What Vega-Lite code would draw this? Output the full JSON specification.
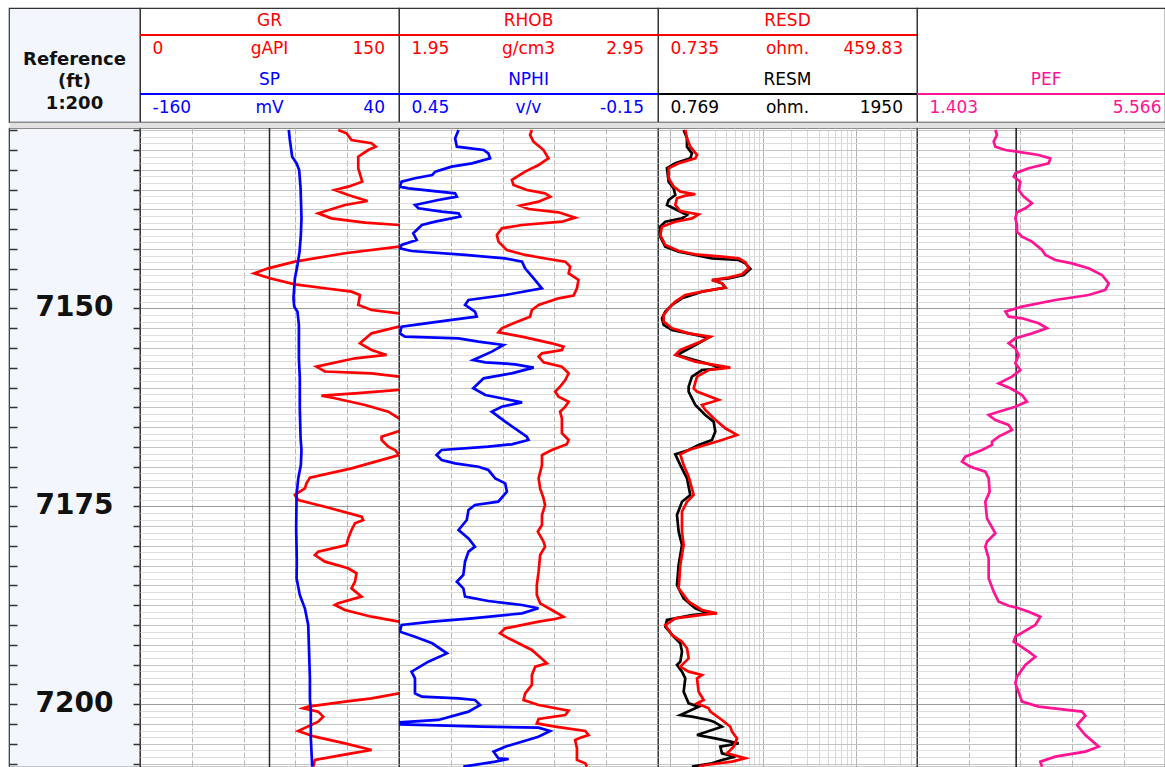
{
"$schema":"https://vega.github.io/schema/vega-lite/v6.json",
"background":"white",
"padding":{"left":7,"top":7,"right":0,"bottom":0},
"config":{"view":{"stroke":"#333333","strokeWidth":1.2},"text":{"font":"DejaVu Sans"}},
"datasets":{
"hdr0":[{"label":"Reference","line":1},{"label":"(ft)","line":2},{"label":"1:200","line":3}],
"hdr1":[{"curve":"GR","unit":"gAPI","lo":"0","hi":"150","slot":1},{"curve":"SP","unit":"mV","lo":"-160","hi":"40","slot":2}],
"hdr2":[{"curve":"RHOB","unit":"g/cm3","lo":"1.95","hi":"2.95","slot":1},{"curve":"NPHI","unit":"v/v","lo":"0.45","hi":"-0.15","slot":2}],
"hdr3":[{"curve":"RESD","unit":"ohm.","lo":"0.735","hi":"459.83","slot":1},{"curve":"RESM","unit":"ohm.","lo":"0.769","hi":"1950","slot":2}],
"hdr4":[{"curve":"PEF","unit":"","lo":"1.403","hi":"5.566","slot":2}],
"depthLabels":[{"depth":7150},{"depth":7175},{"depth":7200}],
"cut1":[{"GR":75}],
"cut4":[{"PEF":3}],
"gr":[{"depth":7127.48,"GR":114.8},{"depth":7127.9,"GR":119.6},{"depth":7128.74,"GR":122.5},{"depth":7129.16,"GR":134.1},{"depth":7129.59,"GR":136.5},{"depth":7130.01,"GR":132.2},{"depth":7130.85,"GR":126.4},{"depth":7132.32,"GR":126.4},{"depth":7134.01,"GR":128.7},{"depth":7134.64,"GR":120.6},{"depth":7135.06,"GR":112.9},{"depth":7135.69,"GR":120.6},{"depth":7136.45,"GR":131.8},{"depth":7136.95,"GR":118.7},{"depth":7138.0,"GR":103.2},{"depth":7138.64,"GR":110.9},{"depth":7139.18,"GR":130.3},{"depth":7139.48,"GR":150},{"depth":7139.6,"GR":175},{"depth":7142.1,"GR":175},{"depth":7142.21,"GR":150},{"depth":7143.05,"GR":118.7},{"depth":7144.11,"GR":89.7},{"depth":7144.95,"GR":74.2},{"depth":7145.58,"GR":66.1},{"depth":7146.21,"GR":75.2},{"depth":7146.97,"GR":89.7},{"depth":7147.47,"GR":107.1},{"depth":7147.9,"GR":122.5},{"depth":7148.32,"GR":127.4},{"depth":7149.58,"GR":126.4},{"depth":7150.21,"GR":134.1},{"depth":7150.63,"GR":150},{"depth":7150.75,"GR":175},{"depth":7152.2,"GR":175},{"depth":7152.31,"GR":150},{"depth":7153.16,"GR":134.1},{"depth":7154.42,"GR":127.4},{"depth":7155.26,"GR":134.1},{"depth":7155.89,"GR":142.8},{"depth":7156.31,"GR":124.5},{"depth":7157.37,"GR":102.2},{"depth":7157.98,"GR":107.1},{"depth":7158.21,"GR":134.1},{"depth":7158.63,"GR":150},{"depth":7158.75,"GR":175},{"depth":7160.2,"GR":175},{"depth":7160.31,"GR":150},{"depth":7160.73,"GR":124.5},{"depth":7161.03,"GR":105.1},{"depth":7161.36,"GR":112.9},{"depth":7162.21,"GR":130.3},{"depth":7163.05,"GR":143.8},{"depth":7163.89,"GR":150},{"depth":7164.0,"GR":175},{"depth":7165.4,"GR":175},{"depth":7165.49,"GR":150},{"depth":7166.2,"GR":139.9},{"depth":7166.62,"GR":139.9},{"depth":7167.47,"GR":143.8},{"depth":7167.89,"GR":147.7},{"depth":7168.52,"GR":150},{"depth":7170.21,"GR":122.5},{"depth":7171.38,"GR":98.4},{"depth":7172.1,"GR":96.4},{"depth":7172.73,"GR":95.5},{"depth":7173.57,"GR":89.7},{"depth":7174.2,"GR":91.6},{"depth":7175.05,"GR":107.1},{"depth":7176.31,"GR":128.3},{"depth":7176.73,"GR":129.3},{"depth":7177.15,"GR":124.5},{"depth":7177.99,"GR":122.5},{"depth":7179.05,"GR":120.6},{"depth":7179.89,"GR":119.6},{"depth":7180.73,"GR":103.2},{"depth":7181.15,"GR":101.3},{"depth":7181.99,"GR":107.1},{"depth":7182.83,"GR":120.6},{"depth":7183.46,"GR":125.4},{"depth":7184.52,"GR":124.5},{"depth":7185.36,"GR":122.5},{"depth":7186.41,"GR":128.3},{"depth":7187.25,"GR":114.8},{"depth":7187.46,"GR":112.9},{"depth":7188.09,"GR":118.7},{"depth":7188.94,"GR":134.1},{"depth":7189.57,"GR":150},{"depth":7189.7,"GR":175},{"depth":7198.5,"GR":175},{"depth":7198.62,"GR":150},{"depth":7199.25,"GR":134.1},{"depth":7199.67,"GR":118.7},{"depth":7200.3,"GR":97.4},{"depth":7200.51,"GR":94.5},{"depth":7200.93,"GR":103.2},{"depth":7201.56,"GR":106.1},{"depth":7202.19,"GR":103.2},{"depth":7203.37,"GR":91.6},{"depth":7204.09,"GR":101.3},{"depth":7204.93,"GR":118.7},{"depth":7205.77,"GR":134.1},{"depth":7206.19,"GR":122.5},{"depth":7207.03,"GR":101.3},{"depth":7207.88,"GR":100.3}],
"sp":[{"depth":7127.48,"SP":-45.1},{"depth":7128.74,"SP":-44.3},{"depth":7130.85,"SP":-42.5},{"depth":7131.69,"SP":-39.1},{"depth":7132.53,"SP":-37.1},{"depth":7134.85,"SP":-36.0},{"depth":7138.64,"SP":-35.3},{"depth":7140.74,"SP":-35.8},{"depth":7142.84,"SP":-36.8},{"depth":7144.53,"SP":-38.4},{"depth":7146.21,"SP":-40.4},{"depth":7148.74,"SP":-41.5},{"depth":7149.79,"SP":-40.9},{"depth":7150.42,"SP":-38.4},{"depth":7152.1,"SP":-37.3},{"depth":7156.31,"SP":-37.3},{"depth":7158.84,"SP":-36.6},{"depth":7162.63,"SP":-36.6},{"depth":7166.41,"SP":-36.0},{"depth":7167.89,"SP":-35.3},{"depth":7169.79,"SP":-35.8},{"depth":7171.47,"SP":-37.8},{"depth":7173.57,"SP":-39.1},{"depth":7177.78,"SP":-39.4},{"depth":7181.99,"SP":-38.9},{"depth":7184.1,"SP":-39.1},{"depth":7186.2,"SP":-36.6},{"depth":7187.88,"SP":-32.7},{"depth":7189.99,"SP":-30.1},{"depth":7192.51,"SP":-29.6},{"depth":7196.72,"SP":-28.8},{"depth":7199.25,"SP":-28.8},{"depth":7200.93,"SP":-28.1},{"depth":7204.3,"SP":-28.1},{"depth":7207.88,"SP":-27.0}],
"rhob":[{"depth":7127.48,"RHOB":2.463},{"depth":7128.11,"RHOB":2.456},{"depth":7128.95,"RHOB":2.469},{"depth":7130.01,"RHOB":2.508},{"depth":7131.06,"RHOB":2.527},{"depth":7131.9,"RHOB":2.489},{"depth":7132.74,"RHOB":2.437},{"depth":7133.79,"RHOB":2.386},{"depth":7134.43,"RHOB":2.392},{"depth":7135.06,"RHOB":2.444},{"depth":7135.48,"RHOB":2.514},{"depth":7135.9,"RHOB":2.534},{"depth":7136.53,"RHOB":2.489},{"depth":7137.04,"RHOB":2.418},{"depth":7137.46,"RHOB":2.45},{"depth":7137.88,"RHOB":2.566},{"depth":7138.55,"RHOB":2.63},{"depth":7139.06,"RHOB":2.579},{"depth":7139.48,"RHOB":2.424},{"depth":7139.9,"RHOB":2.347},{"depth":7140.74,"RHOB":2.328},{"depth":7141.58,"RHOB":2.334},{"depth":7142.63,"RHOB":2.366},{"depth":7143.26,"RHOB":2.437},{"depth":7143.77,"RHOB":2.527},{"depth":7144.11,"RHOB":2.592},{"depth":7144.74,"RHOB":2.611},{"depth":7145.58,"RHOB":2.605},{"depth":7146.0,"RHOB":2.624},{"depth":7146.42,"RHOB":2.643},{"depth":7147.47,"RHOB":2.637},{"depth":7148.4,"RHOB":2.624},{"depth":7148.74,"RHOB":2.566},{"depth":7149.58,"RHOB":2.489},{"depth":7150.21,"RHOB":2.463},{"depth":7151.05,"RHOB":2.456},{"depth":7151.89,"RHOB":2.392},{"depth":7152.52,"RHOB":2.347},{"depth":7153.03,"RHOB":2.334},{"depth":7153.58,"RHOB":2.424},{"depth":7154.42,"RHOB":2.54},{"depth":7154.84,"RHOB":2.585},{"depth":7155.26,"RHOB":2.579},{"depth":7155.68,"RHOB":2.502},{"depth":7156.1,"RHOB":2.489},{"depth":7156.82,"RHOB":2.508},{"depth":7157.37,"RHOB":2.579},{"depth":7158.21,"RHOB":2.605},{"depth":7159.05,"RHOB":2.592},{"depth":7159.89,"RHOB":2.572},{"depth":7160.52,"RHOB":2.553},{"depth":7161.15,"RHOB":2.566},{"depth":7161.79,"RHOB":2.605},{"depth":7162.42,"RHOB":2.592},{"depth":7163.05,"RHOB":2.572},{"depth":7163.89,"RHOB":2.579},{"depth":7164.94,"RHOB":2.579},{"depth":7165.78,"RHOB":2.579},{"depth":7166.62,"RHOB":2.605},{"depth":7167.17,"RHOB":2.598},{"depth":7167.89,"RHOB":2.54},{"depth":7168.52,"RHOB":2.502},{"depth":7169.79,"RHOB":2.502},{"depth":7171.47,"RHOB":2.489},{"depth":7172.73,"RHOB":2.495},{"depth":7174.0,"RHOB":2.508},{"depth":7174.84,"RHOB":2.514},{"depth":7176.1,"RHOB":2.502},{"depth":7177.36,"RHOB":2.502},{"depth":7178.2,"RHOB":2.486},{"depth":7179.47,"RHOB":2.508},{"depth":7180.1,"RHOB":2.514},{"depth":7181.15,"RHOB":2.495},{"depth":7183.25,"RHOB":2.489},{"depth":7184.94,"RHOB":2.482},{"depth":7186.2,"RHOB":2.482},{"depth":7187.25,"RHOB":2.495},{"depth":7188.09,"RHOB":2.54},{"depth":7188.94,"RHOB":2.585},{"depth":7189.23,"RHOB":2.553},{"depth":7189.57,"RHOB":2.489},{"depth":7190.41,"RHOB":2.36},{"depth":7191.04,"RHOB":2.34},{"depth":7191.67,"RHOB":2.373},{"depth":7193.14,"RHOB":2.463},{"depth":7194.83,"RHOB":2.521},{"depth":7195.25,"RHOB":2.476},{"depth":7196.3,"RHOB":2.463},{"depth":7197.56,"RHOB":2.463},{"depth":7198.62,"RHOB":2.437},{"depth":7199.46,"RHOB":2.431},{"depth":7200.09,"RHOB":2.489},{"depth":7200.81,"RHOB":2.605},{"depth":7201.35,"RHOB":2.592},{"depth":7201.86,"RHOB":2.489},{"depth":7202.41,"RHOB":2.482},{"depth":7202.83,"RHOB":2.553},{"depth":7203.37,"RHOB":2.669},{"depth":7203.88,"RHOB":2.682},{"depth":7204.22,"RHOB":2.65},{"depth":7204.51,"RHOB":2.63},{"depth":7205.56,"RHOB":2.637},{"depth":7207.03,"RHOB":2.637},{"depth":7207.46,"RHOB":2.669},{"depth":7207.88,"RHOB":2.676}],
"nphi":[{"depth":7127.48,"NPHI":0.312},{"depth":7128.53,"NPHI":0.32},{"depth":7129.59,"NPHI":0.316},{"depth":7130.01,"NPHI":0.254},{"depth":7130.43,"NPHI":0.243},{"depth":7131.06,"NPHI":0.239},{"depth":7131.69,"NPHI":0.281},{"depth":7132.11,"NPHI":0.328},{"depth":7132.74,"NPHI":0.366},{"depth":7133.16,"NPHI":0.373},{"depth":7133.58,"NPHI":0.413},{"depth":7134.01,"NPHI":0.444},{"depth":7134.64,"NPHI":0.448},{"depth":7134.85,"NPHI":0.428},{"depth":7135.48,"NPHI":0.32},{"depth":7135.9,"NPHI":0.316},{"depth":7136.32,"NPHI":0.359},{"depth":7136.95,"NPHI":0.413},{"depth":7137.37,"NPHI":0.405},{"depth":7137.79,"NPHI":0.351},{"depth":7138.0,"NPHI":0.312},{"depth":7138.42,"NPHI":0.308},{"depth":7139.06,"NPHI":0.366},{"depth":7139.48,"NPHI":0.397},{"depth":7140.53,"NPHI":0.417},{"depth":7141.37,"NPHI":0.409},{"depth":7142.0,"NPHI":0.444},{"depth":7142.42,"NPHI":0.448},{"depth":7142.76,"NPHI":0.421},{"depth":7143.26,"NPHI":0.297},{"depth":7143.69,"NPHI":0.204},{"depth":7144.11,"NPHI":0.165},{"depth":7144.95,"NPHI":0.158},{"depth":7146.21,"NPHI":0.138},{"depth":7147.47,"NPHI":0.119},{"depth":7148.32,"NPHI":0.204},{"depth":7148.95,"NPHI":0.289},{"depth":7149.58,"NPHI":0.297},{"depth":7150.42,"NPHI":0.274},{"depth":7151.05,"NPHI":0.27},{"depth":7151.47,"NPHI":0.328},{"depth":7152.02,"NPHI":0.405},{"depth":7152.31,"NPHI":0.444},{"depth":7153.16,"NPHI":0.448},{"depth":7153.58,"NPHI":0.436},{"depth":7153.79,"NPHI":0.312},{"depth":7154.21,"NPHI":0.266},{"depth":7154.63,"NPHI":0.208},{"depth":7155.47,"NPHI":0.235},{"depth":7156.52,"NPHI":0.278},{"depth":7156.82,"NPHI":0.25},{"depth":7157.07,"NPHI":0.181},{"depth":7157.49,"NPHI":0.138},{"depth":7158.21,"NPHI":0.189},{"depth":7158.84,"NPHI":0.254},{"depth":7160.1,"NPHI":0.278},{"depth":7160.94,"NPHI":0.25},{"depth":7161.45,"NPHI":0.204},{"depth":7161.87,"NPHI":0.165},{"depth":7162.42,"NPHI":0.212},{"depth":7163.05,"NPHI":0.235},{"depth":7164.31,"NPHI":0.204},{"depth":7166.2,"NPHI":0.154},{"depth":7166.62,"NPHI":0.15},{"depth":7167.17,"NPHI":0.189},{"depth":7167.47,"NPHI":0.243},{"depth":7167.89,"NPHI":0.351},{"depth":7168.52,"NPHI":0.363},{"depth":7169.15,"NPHI":0.351},{"depth":7169.57,"NPHI":0.32},{"depth":7170.0,"NPHI":0.266},{"depth":7170.42,"NPHI":0.243},{"depth":7171.47,"NPHI":0.227},{"depth":7172.1,"NPHI":0.204},{"depth":7173.15,"NPHI":0.2},{"depth":7174.42,"NPHI":0.22},{"depth":7174.84,"NPHI":0.274},{"depth":7175.47,"NPHI":0.289},{"depth":7176.73,"NPHI":0.293},{"depth":7177.99,"NPHI":0.312},{"depth":7179.05,"NPHI":0.289},{"depth":7180.1,"NPHI":0.274},{"depth":7180.73,"NPHI":0.289},{"depth":7181.99,"NPHI":0.297},{"depth":7183.67,"NPHI":0.301},{"depth":7184.52,"NPHI":0.316},{"depth":7185.36,"NPHI":0.301},{"depth":7186.41,"NPHI":0.297},{"depth":7186.96,"NPHI":0.243},{"depth":7187.46,"NPHI":0.165},{"depth":7187.88,"NPHI":0.127},{"depth":7188.52,"NPHI":0.165},{"depth":7189.15,"NPHI":0.281},{"depth":7189.57,"NPHI":0.373},{"depth":7189.99,"NPHI":0.444},{"depth":7190.83,"NPHI":0.448},{"depth":7191.46,"NPHI":0.413},{"depth":7192.3,"NPHI":0.373},{"depth":7193.57,"NPHI":0.339},{"depth":7194.62,"NPHI":0.382},{"depth":7195.88,"NPHI":0.421},{"depth":7196.72,"NPHI":0.413},{"depth":7198.62,"NPHI":0.413},{"depth":7199.04,"NPHI":0.397},{"depth":7199.25,"NPHI":0.312},{"depth":7199.46,"NPHI":0.274},{"depth":7200.09,"NPHI":0.262},{"depth":7200.93,"NPHI":0.289},{"depth":7201.98,"NPHI":0.359},{"depth":7202.28,"NPHI":0.448},{"depth":7202.53,"NPHI":0.448},{"depth":7202.62,"NPHI":0.382},{"depth":7202.83,"NPHI":0.258},{"depth":7202.95,"NPHI":0.127},{"depth":7203.37,"NPHI":0.1},{"depth":7204.09,"NPHI":0.127},{"depth":7205.35,"NPHI":0.204},{"depth":7205.98,"NPHI":0.231},{"depth":7206.82,"NPHI":0.22},{"depth":7206.91,"NPHI":0.196},{"depth":7207.24,"NPHI":0.227},{"depth":7207.88,"NPHI":0.301}],
"resd":[{"depth":7127.48,"RESD":1.45},{"depth":7128.53,"RESD":1.511},{"depth":7129.59,"RESD":1.641},{"depth":7130.64,"RESD":1.938},{"depth":7131.06,"RESD":1.858},{"depth":7131.69,"RESD":1.228},{"depth":7132.32,"RESD":0.957},{"depth":7133.58,"RESD":0.957},{"depth":7134.64,"RESD":1.084},{"depth":7135.27,"RESD":1.28},{"depth":7135.6,"RESD":1.858},{"depth":7135.77,"RESD":1.45},{"depth":7136.11,"RESD":1.178},{"depth":7136.95,"RESD":1.13},{"depth":7137.71,"RESD":1.28},{"depth":7138.13,"RESD":2.02},{"depth":7138.64,"RESD":1.711},{"depth":7139.06,"RESD":1.13},{"depth":7139.69,"RESD":0.811},{"depth":7140.74,"RESD":0.778},{"depth":7142.0,"RESD":0.881},{"depth":7142.76,"RESD":1.228},{"depth":7143.18,"RESD":1.858},{"depth":7143.48,"RESD":3.607},{"depth":7143.69,"RESD":5.46},{"depth":7144.19,"RESD":6.444},{"depth":7144.95,"RESD":7.0},{"depth":7145.71,"RESD":5.931},{"depth":7146.13,"RESD":4.257},{"depth":7146.42,"RESD":2.813},{"depth":7146.84,"RESD":3.607},{"depth":7147.39,"RESD":3.919},{"depth":7147.9,"RESD":2.194},{"depth":7148.32,"RESD":1.45},{"depth":7149.16,"RESD":1.13},{"depth":7150.0,"RESD":0.957},{"depth":7150.84,"RESD":0.846},{"depth":7151.68,"RESD":0.846},{"depth":7152.52,"RESD":1.04},{"depth":7153.16,"RESD":1.575},{"depth":7153.58,"RESD":2.7},{"depth":7154.21,"RESD":2.105},{"depth":7155.26,"RESD":1.28},{"depth":7155.89,"RESD":1.13},{"depth":7156.73,"RESD":1.858},{"depth":7157.49,"RESD":4.437},{"depth":7157.79,"RESD":2.59},{"depth":7158.63,"RESD":1.938},{"depth":7160.1,"RESD":1.783},{"depth":7160.52,"RESD":1.938},{"depth":7161.57,"RESD":3.32},{"depth":7162.21,"RESD":2.194},{"depth":7162.84,"RESD":2.384},{"depth":7163.89,"RESD":2.932},{"depth":7165.15,"RESD":3.919},{"depth":7165.99,"RESD":5.238},{"depth":7166.63,"RESD":3.607},{"depth":7167.26,"RESD":2.384},{"depth":7167.89,"RESD":1.575},{"depth":7168.44,"RESD":1.28},{"depth":7169.79,"RESD":1.39},{"depth":7171.26,"RESD":1.575},{"depth":7173.57,"RESD":1.783},{"depth":7174.42,"RESD":1.511},{"depth":7175.68,"RESD":1.334},{"depth":7178.2,"RESD":1.334},{"depth":7179.89,"RESD":1.39},{"depth":7182.41,"RESD":1.28},{"depth":7185.36,"RESD":1.228},{"depth":7187.04,"RESD":1.575},{"depth":7188.09,"RESD":2.194},{"depth":7188.52,"RESD":3.185},{"depth":7188.65,"RESD":2.384},{"depth":7189.15,"RESD":1.13},{"depth":7189.99,"RESD":0.881},{"depth":7191.25,"RESD":1.04},{"depth":7192.09,"RESD":1.334},{"depth":7192.93,"RESD":1.511},{"depth":7194.2,"RESD":1.575},{"depth":7195.25,"RESD":1.28},{"depth":7195.88,"RESD":1.575},{"depth":7196.3,"RESD":2.194},{"depth":7196.72,"RESD":1.938},{"depth":7198.41,"RESD":2.02},{"depth":7199.46,"RESD":2.287},{"depth":7199.88,"RESD":1.938},{"depth":7200.51,"RESD":2.59},{"depth":7200.93,"RESD":2.7},{"depth":7201.98,"RESD":3.607},{"depth":7202.83,"RESD":4.437},{"depth":7203.46,"RESD":4.625},{"depth":7204.3,"RESD":5.238},{"depth":7205.35,"RESD":4.821},{"depth":7206.19,"RESD":4.084},{"depth":7206.82,"RESD":6.444},{"depth":7207.24,"RESD":4.625},{"depth":7207.67,"RESD":2.384},{"depth":7207.88,"RESD":2.02}],
"resm":[{"depth":7127.48,"RESM":1.671},{"depth":7128.53,"RESM":1.848},{"depth":7129.59,"RESM":1.848},{"depth":7130.43,"RESM":2.15},{"depth":7131.06,"RESM":2.044},{"depth":7131.69,"RESM":1.298},{"depth":7132.32,"RESM":1.009},{"depth":7134.01,"RESM":1.061},{"depth":7134.85,"RESM":1.234},{"depth":7135.69,"RESM":1.298},{"depth":7136.32,"RESM":1.061},{"depth":7136.95,"RESM":1.009},{"depth":7137.37,"RESM":1.234},{"depth":7138.21,"RESM":1.848},{"depth":7138.64,"RESM":1.589},{"depth":7139.06,"RESM":0.959},{"depth":7139.69,"RESM":0.824},{"depth":7140.95,"RESM":0.824},{"depth":7142.21,"RESM":0.959},{"depth":7142.84,"RESM":1.436},{"depth":7143.69,"RESM":3.938},{"depth":7143.9,"RESM":8.83},{"depth":7144.32,"RESM":10.8},{"depth":7145.03,"RESM":12.57},{"depth":7145.79,"RESM":10.27},{"depth":7146.21,"RESM":6.525},{"depth":7146.42,"RESM":3.938},{"depth":7146.84,"RESM":5.332},{"depth":7147.39,"RESM":5.898},{"depth":7147.9,"RESM":2.91},{"depth":7148.74,"RESM":1.589},{"depth":7149.58,"RESM":1.174},{"depth":7150.42,"RESM":0.959},{"depth":7151.26,"RESM":0.867},{"depth":7152.1,"RESM":0.912},{"depth":7152.74,"RESM":1.174},{"depth":7153.16,"RESM":1.944},{"depth":7153.7,"RESM":3.56},{"depth":7154.63,"RESM":2.378},{"depth":7155.89,"RESM":1.365},{"depth":7156.31,"RESM":1.944},{"depth":7157.15,"RESM":3.938},{"depth":7157.58,"RESM":5.332},{"depth":7157.79,"RESM":2.91},{"depth":7158.63,"RESM":2.15},{"depth":7159.89,"RESM":1.944},{"depth":7160.52,"RESM":1.944},{"depth":7162.21,"RESM":2.378},{"depth":7163.47,"RESM":3.218},{"depth":7164.31,"RESM":4.142},{"depth":7165.57,"RESM":4.356},{"depth":7166.63,"RESM":3.938},{"depth":7167.26,"RESM":2.631},{"depth":7167.89,"RESM":1.944},{"depth":7168.44,"RESM":1.298},{"depth":7169.79,"RESM":1.511},{"depth":7171.47,"RESM":1.848},{"depth":7173.57,"RESM":2.044},{"depth":7174.42,"RESM":1.589},{"depth":7176.1,"RESM":1.365},{"depth":7178.2,"RESM":1.436},{"depth":7179.89,"RESM":1.589},{"depth":7182.41,"RESM":1.436},{"depth":7184.94,"RESM":1.365},{"depth":7186.62,"RESM":1.671},{"depth":7187.88,"RESM":2.378},{"depth":7188.52,"RESM":3.56},{"depth":7188.73,"RESM":2.15},{"depth":7189.36,"RESM":1.009},{"depth":7190.2,"RESM":0.959},{"depth":7191.46,"RESM":1.234},{"depth":7192.3,"RESM":1.511},{"depth":7193.36,"RESM":1.589},{"depth":7194.62,"RESM":1.511},{"depth":7195.04,"RESM":1.365},{"depth":7195.88,"RESM":1.589},{"depth":7196.72,"RESM":1.757},{"depth":7198.41,"RESM":1.671},{"depth":7199.88,"RESM":1.944},{"depth":7200.3,"RESM":2.631},{"depth":7201.35,"RESM":1.511},{"depth":7201.56,"RESM":2.15},{"depth":7201.98,"RESM":3.56},{"depth":7202.19,"RESM":4.142},{"depth":7202.83,"RESM":5.332},{"depth":7203.88,"RESM":2.501},{"depth":7204.3,"RESM":4.356},{"depth":7204.93,"RESM":8.83},{"depth":7205.35,"RESM":5.07},{"depth":7206.19,"RESM":5.332},{"depth":7206.61,"RESM":7.983},{"depth":7207.03,"RESM":5.332},{"depth":7207.46,"RESM":3.938},{"depth":7207.88,"RESM":2.15}],
"pef":[{"depth":7127.48,"PEF":2.665},{"depth":7128.11,"PEF":2.691},{"depth":7128.95,"PEF":2.638},{"depth":7129.59,"PEF":2.665},{"depth":7130.01,"PEF":2.826},{"depth":7130.22,"PEF":3.013},{"depth":7130.64,"PEF":3.362},{"depth":7131.06,"PEF":3.55},{"depth":7131.69,"PEF":3.523},{"depth":7132.32,"PEF":3.201},{"depth":7132.95,"PEF":2.987},{"depth":7133.37,"PEF":2.96},{"depth":7134.01,"PEF":3.067},{"depth":7135.06,"PEF":3.04},{"depth":7135.9,"PEF":3.121},{"depth":7136.74,"PEF":3.255},{"depth":7137.37,"PEF":3.148},{"depth":7137.88,"PEF":3.013},{"depth":7138.64,"PEF":2.987},{"depth":7139.48,"PEF":3.013},{"depth":7140.32,"PEF":3.013},{"depth":7140.95,"PEF":3.094},{"depth":7141.58,"PEF":3.255},{"depth":7142.63,"PEF":3.416},{"depth":7143.26,"PEF":3.47},{"depth":7143.9,"PEF":3.631},{"depth":7144.32,"PEF":3.899},{"depth":7144.95,"PEF":4.167},{"depth":7145.79,"PEF":4.382},{"depth":7146.84,"PEF":4.49},{"depth":7147.68,"PEF":4.436},{"depth":7148.32,"PEF":4.167},{"depth":7148.95,"PEF":3.631},{"depth":7149.79,"PEF":3.094},{"depth":7150.42,"PEF":2.826},{"depth":7151.05,"PEF":2.879},{"depth":7151.26,"PEF":3.094},{"depth":7151.89,"PEF":3.362},{"depth":7152.52,"PEF":3.497},{"depth":7153.16,"PEF":3.255},{"depth":7153.79,"PEF":2.987},{"depth":7154.42,"PEF":2.879},{"depth":7155.05,"PEF":2.987},{"depth":7155.89,"PEF":3.04},{"depth":7156.94,"PEF":2.987},{"depth":7157.79,"PEF":3.067},{"depth":7158.63,"PEF":2.933},{"depth":7159.47,"PEF":2.718},{"depth":7160.1,"PEF":2.906},{"depth":7160.94,"PEF":3.094},{"depth":7161.78,"PEF":3.174},{"depth":7162.42,"PEF":2.987},{"depth":7163.05,"PEF":2.718},{"depth":7163.47,"PEF":2.557},{"depth":7164.1,"PEF":2.665},{"depth":7164.73,"PEF":2.879},{"depth":7165.36,"PEF":2.933},{"depth":7166.2,"PEF":2.718},{"depth":7166.84,"PEF":2.611},{"depth":7167.26,"PEF":2.611},{"depth":7167.89,"PEF":2.45},{"depth":7168.73,"PEF":2.181},{"depth":7169.36,"PEF":2.128},{"depth":7170.0,"PEF":2.262},{"depth":7170.63,"PEF":2.503},{"depth":7171.47,"PEF":2.557},{"depth":7173.15,"PEF":2.573},{"depth":7174.42,"PEF":2.503},{"depth":7176.52,"PEF":2.53},{"depth":7178.41,"PEF":2.665},{"depth":7179.47,"PEF":2.53},{"depth":7180.1,"PEF":2.503},{"depth":7181.57,"PEF":2.557},{"depth":7184.1,"PEF":2.557},{"depth":7185.78,"PEF":2.638},{"depth":7187.04,"PEF":2.718},{"depth":7187.55,"PEF":2.879},{"depth":7187.88,"PEF":3.04},{"depth":7188.31,"PEF":3.201},{"depth":7188.94,"PEF":3.389},{"depth":7189.99,"PEF":3.309},{"depth":7191.46,"PEF":2.987},{"depth":7192.09,"PEF":2.96},{"depth":7193.36,"PEF":3.201},{"depth":7193.99,"PEF":3.309},{"depth":7195.04,"PEF":3.148},{"depth":7196.51,"PEF":3.013},{"depth":7197.35,"PEF":2.987},{"depth":7199.67,"PEF":3.094},{"depth":7200.3,"PEF":3.362},{"depth":7200.93,"PEF":4.06},{"depth":7201.44,"PEF":4.114},{"depth":7202.62,"PEF":3.98},{"depth":7203.88,"PEF":4.114},{"depth":7205.35,"PEF":4.329},{"depth":7205.98,"PEF":4.114},{"depth":7206.61,"PEF":3.631},{"depth":7207.24,"PEF":3.389},{"depth":7207.88,"PEF":3.416}]
},
"columns":5,
"spacing":{"row":6,"column":0},
"bounds":"flush",
"align":"each",
"concat":[
 {"width":131,"height":114,"view":{"fill":"#f3f7fd"},"data":{"name":"hdr0"},
  "mark":{"type":"text","fontSize":18,"fontWeight":"bold","color":"#111111","baseline":"middle","align":"center"},
  "encoding":{"x":{"datum":0.5,"type":"quantitative","scale":{"domain":[0,1],"nice":false,"zero":false},"axis":null},
   "y":{"field":"line","type":"quantitative","scale":{"domain":[-1.3636,3.8182],"reverse":true,"nice":false,"zero":false},"axis":null},
   "text":{"field":"label"}}},
 {"width":259,"height":114,"data":{"name":"hdr1"},
  "encoding":{"y":{"field":"slot","type":"quantitative","scale":{"domain":[0.5424,2.4746],"reverse":true,"nice":false,"zero":false},"axis":null},
   "color":{"field":"curve","type":"nominal","scale":{"domain":["GR","SP","RHOB","NPHI","RESD","RESM","PEF"],"range":["#ff0000","#0000ff","#ff0000","#0000ff","#ff0000","#000000","#ff1493"]},"legend":null}},
  "layer":[
   {"mark":{"type":"rule","strokeWidth":2},"encoding":{"x":{"datum":0,"type":"quantitative","scale":{"domain":[0,1],"nice":false,"zero":false},"axis":null},"x2":{"datum":1}}},
   {"mark":{"type":"text","fontSize":17,"baseline":"middle","align":"center","dy":-14},"encoding":{"x":{"datum":0.5,"type":"quantitative","axis":null},"text":{"field":"curve"}}},
   {"mark":{"type":"text","fontSize":17,"baseline":"middle","align":"center","dy":14.5},"encoding":{"x":{"datum":0.5,"type":"quantitative","axis":null},"text":{"field":"unit"}}},
   {"mark":{"type":"text","fontSize":17,"baseline":"middle","align":"left","dx":12.5,"dy":14.5},"encoding":{"x":{"datum":0,"type":"quantitative","axis":null},"text":{"field":"lo"}}},
   {"mark":{"type":"text","fontSize":17,"baseline":"middle","align":"right","dx":-14,"dy":14.5},"encoding":{"x":{"datum":1,"type":"quantitative","axis":null},"text":{"field":"hi"}}}
  ]},
 {"width":259,"height":114,"data":{"name":"hdr2"},
  "encoding":{"y":{"field":"slot","type":"quantitative","scale":{"domain":[0.5424,2.4746],"reverse":true,"nice":false,"zero":false},"axis":null},
   "color":{"field":"curve","type":"nominal","scale":{"domain":["GR","SP","RHOB","NPHI","RESD","RESM","PEF"],"range":["#ff0000","#0000ff","#ff0000","#0000ff","#ff0000","#000000","#ff1493"]},"legend":null}},
  "layer":[
   {"mark":{"type":"rule","strokeWidth":2},"encoding":{"x":{"datum":0,"type":"quantitative","scale":{"domain":[0,1],"nice":false,"zero":false},"axis":null},"x2":{"datum":1}}},
   {"mark":{"type":"text","fontSize":17,"baseline":"middle","align":"center","dy":-14},"encoding":{"x":{"datum":0.5,"type":"quantitative","axis":null},"text":{"field":"curve"}}},
   {"mark":{"type":"text","fontSize":17,"baseline":"middle","align":"center","dy":14.5},"encoding":{"x":{"datum":0.5,"type":"quantitative","axis":null},"text":{"field":"unit"}}},
   {"mark":{"type":"text","fontSize":17,"baseline":"middle","align":"left","dx":12.5,"dy":14.5},"encoding":{"x":{"datum":0,"type":"quantitative","axis":null},"text":{"field":"lo"}}},
   {"mark":{"type":"text","fontSize":17,"baseline":"middle","align":"right","dx":-14,"dy":14.5},"encoding":{"x":{"datum":1,"type":"quantitative","axis":null},"text":{"field":"hi"}}}
  ]},
 {"width":259,"height":114,"data":{"name":"hdr3"},
  "encoding":{"y":{"field":"slot","type":"quantitative","scale":{"domain":[0.5424,2.4746],"reverse":true,"nice":false,"zero":false},"axis":null},
   "color":{"field":"curve","type":"nominal","scale":{"domain":["GR","SP","RHOB","NPHI","RESD","RESM","PEF"],"range":["#ff0000","#0000ff","#ff0000","#0000ff","#ff0000","#000000","#ff1493"]},"legend":null}},
  "layer":[
   {"mark":{"type":"rule","strokeWidth":2},"encoding":{"x":{"datum":0,"type":"quantitative","scale":{"domain":[0,1],"nice":false,"zero":false},"axis":null},"x2":{"datum":1}}},
   {"mark":{"type":"text","fontSize":17,"baseline":"middle","align":"center","dy":-14},"encoding":{"x":{"datum":0.5,"type":"quantitative","axis":null},"text":{"field":"curve"}}},
   {"mark":{"type":"text","fontSize":17,"baseline":"middle","align":"center","dy":14.5},"encoding":{"x":{"datum":0.5,"type":"quantitative","axis":null},"text":{"field":"unit"}}},
   {"mark":{"type":"text","fontSize":17,"baseline":"middle","align":"left","dx":12.5,"dy":14.5},"encoding":{"x":{"datum":0,"type":"quantitative","axis":null},"text":{"field":"lo"}}},
   {"mark":{"type":"text","fontSize":17,"baseline":"middle","align":"right","dx":-14,"dy":14.5},"encoding":{"x":{"datum":1,"type":"quantitative","axis":null},"text":{"field":"hi"}}}
  ]},
 {"width":248,"height":114,"data":{"name":"hdr4"},
  "encoding":{"y":{"field":"slot","type":"quantitative","scale":{"domain":[0.5424,2.4746],"reverse":true,"nice":false,"zero":false},"axis":null},
   "color":{"field":"curve","type":"nominal","scale":{"domain":["GR","SP","RHOB","NPHI","RESD","RESM","PEF"],"range":["#ff0000","#0000ff","#ff0000","#0000ff","#ff0000","#000000","#ff1493"]},"legend":null}},
  "layer":[
   {"mark":{"type":"rule","strokeWidth":2},"encoding":{"x":{"datum":0,"type":"quantitative","scale":{"domain":[0,0.9594],"nice":false,"zero":false},"axis":null},"x2":{"datum":0.9594}}},
   {"mark":{"type":"text","fontSize":17,"baseline":"middle","align":"center","dy":-14},"encoding":{"x":{"datum":0.5,"type":"quantitative","axis":null},"text":{"field":"curve"}}},
   {"mark":{"type":"text","fontSize":17,"baseline":"middle","align":"left","dx":12.5,"dy":14.5},"encoding":{"x":{"datum":0,"type":"quantitative","axis":null},"text":{"field":"lo"}}},
   {"mark":{"type":"text","fontSize":17,"baseline":"middle","align":"right","dx":-14,"dy":14.5},"encoding":{"x":{"datum":1,"type":"quantitative","axis":null},"text":{"field":"hi"}}}
  ]},
 {"width":131,"height":639,"view":{"fill":"#f3f7fd"},"data":{"name":"depthLabels"},
  "mark":{"type":"text","fontSize":28,"fontWeight":"bold","color":"#111111","baseline":"middle","align":"center"},
  "encoding":{"x":{"datum":0.5,"type":"quantitative","scale":{"domain":[0,1],"nice":false,"zero":false},"axis":{"orient":"top","offset":3,"domain":true,"domainColor":"#e1e1e1","domainWidth":6,"labels":false,"ticks":false,"grid":false,"title":null}},
   "y":{"field":"depth","type":"quantitative","scale":{"domain":[7127.23,7207.92],"reverse":true,"nice":false,"zero":false},"axis":{"orient":"left","values":[7127.5,7130,7132.5,7135,7137.5,7140,7142.5,7145,7147.5,7150,7152.5,7155,7157.5,7160,7162.5,7165,7167.5,7170,7172.5,7175,7177.5,7180,7182.5,7185,7187.5,7190,7192.5,7195,7197.5,7200,7202.5,7205,7207.5],"ticks":true,"tickSize":-8,"tickColor":"#333333","tickWidth":1.5,"labels":false,"domain":false,"grid":false,"title":null}},
   "text":{"field":"depth","type":"quantitative","format":"d"}}},
 {"width":259,"height":639,
  "layer":[
   {"data":{"name":"cut1"},"mark":{"type":"rule","color":"#2a2a2a","strokeWidth":1.5},"encoding":{"x":{"field":"GR","type":"quantitative","scale":{"domain":[0,150],"nice":false,"zero":false},"axis":null}}},
   {"data":{"name":"gr"},"mark":{"type":"line","color":"#ff0000","strokeWidth":2.7,"clip":true},
    "encoding":{"x":{"field":"GR","type":"quantitative","scale":{"domain":[0,150],"nice":false,"zero":false},"axis":{"orient":"top","offset":3,"values":[30,60,90,120],"grid":true,"gridColor":"#b8b8b8","gridDash":[6,2],"gridWidth":1,"labels":false,"ticks":false,"domain":true,"domainColor":"#e1e1e1","domainWidth":6,"title":null}},
     "y":{"field":"depth","type":"quantitative","scale":{"domain":[7127.23,7207.92],"reverse":true,"nice":false,"zero":false},"axis":{"orient":"left","values":[7127.5,7128.333,7129.167,7130,7130.833,7131.667,7132.5,7133.333,7134.167,7135,7135.833,7136.667,7137.5,7138.333,7139.167,7140,7140.833,7141.667,7142.5,7143.333,7144.167,7145,7145.833,7146.667,7147.5,7148.333,7149.167,7150,7150.833,7151.667,7152.5,7153.333,7154.167,7155,7155.833,7156.667,7157.5,7158.333,7159.167,7160,7160.833,7161.667,7162.5,7163.333,7164.167,7165,7165.833,7166.667,7167.5,7168.333,7169.167,7170,7170.833,7171.667,7172.5,7173.333,7174.167,7175,7175.833,7176.667,7177.5,7178.333,7179.167,7180,7180.833,7181.667,7182.5,7183.333,7184.167,7185,7185.833,7186.667,7187.5,7188.333,7189.167,7190,7190.833,7191.667,7192.5,7193.333,7194.167,7195,7195.833,7196.667,7197.5,7198.333,7199.167,7200,7200.833,7201.667,7202.5,7203.333,7204.167,7205,7205.833,7206.667,7207.5],"tickCount":500,"grid":true,"gridColor":{"condition":[{"test":"datum.value % 25 == 0","value":"#9a9a9a"},{"test":"abs(datum.value/2.5 - round(datum.value/2.5)) < 0.01","value":"#c4c4c4"}],"value":"#dedede"},"gridWidth":1,"labels":false,"ticks":true,"tickSize":7,"tickColor":"#333333","tickWidth":1.5,"tickOpacity":{"condition":{"test":"abs(datum.value/2.5 - round(datum.value/2.5)) < 0.01","value":1},"value":0},"domain":false,"title":null}},
     "order":{"field":"depth","type":"quantitative"}}},
   {"data":{"name":"sp"},"mark":{"type":"line","color":"#0000ff","strokeWidth":2.7,"clip":true},
    "encoding":{"x":{"field":"SP","type":"quantitative","scale":{"domain":[-160,40],"nice":false,"zero":false},"axis":null},
     "y":{"field":"depth","type":"quantitative","scale":{"domain":[7127.23,7207.92],"reverse":true,"nice":false,"zero":false}},
     "order":{"field":"depth","type":"quantitative"}}}
  ],
  "resolve":{"scale":{"x":"independent"},"axis":{"x":"independent"}}},
 {"width":259,"height":639,
  "layer":[
   {"data":{"name":"rhob"},"mark":{"type":"line","color":"#ff0000","strokeWidth":2.7,"clip":true},
    "encoding":{"x":{"field":"RHOB","type":"quantitative","scale":{"domain":[1.95,2.95],"nice":false,"zero":false},"axis":{"orient":"top","offset":3,"values":[2.15,2.35,2.55,2.75],"grid":true,"gridColor":"#b8b8b8","gridDash":[6,2],"gridWidth":1,"labels":false,"ticks":false,"domain":true,"domainColor":"#e1e1e1","domainWidth":6,"title":null}},
     "y":{"field":"depth","type":"quantitative","scale":{"domain":[7127.23,7207.92],"reverse":true,"nice":false,"zero":false},"axis":{"orient":"left","values":[7127.5,7128.333,7129.167,7130,7130.833,7131.667,7132.5,7133.333,7134.167,7135,7135.833,7136.667,7137.5,7138.333,7139.167,7140,7140.833,7141.667,7142.5,7143.333,7144.167,7145,7145.833,7146.667,7147.5,7148.333,7149.167,7150,7150.833,7151.667,7152.5,7153.333,7154.167,7155,7155.833,7156.667,7157.5,7158.333,7159.167,7160,7160.833,7161.667,7162.5,7163.333,7164.167,7165,7165.833,7166.667,7167.5,7168.333,7169.167,7170,7170.833,7171.667,7172.5,7173.333,7174.167,7175,7175.833,7176.667,7177.5,7178.333,7179.167,7180,7180.833,7181.667,7182.5,7183.333,7184.167,7185,7185.833,7186.667,7187.5,7188.333,7189.167,7190,7190.833,7191.667,7192.5,7193.333,7194.167,7195,7195.833,7196.667,7197.5,7198.333,7199.167,7200,7200.833,7201.667,7202.5,7203.333,7204.167,7205,7205.833,7206.667,7207.5],"tickCount":500,"grid":true,"gridColor":{"condition":[{"test":"datum.value % 25 == 0","value":"#9a9a9a"},{"test":"abs(datum.value/2.5 - round(datum.value/2.5)) < 0.01","value":"#c4c4c4"}],"value":"#dedede"},"gridWidth":1,"labels":false,"ticks":false,"domain":false,"title":null}},
     "order":{"field":"depth","type":"quantitative"}}},
   {"data":{"name":"nphi"},"mark":{"type":"line","color":"#0000ff","strokeWidth":2.7,"clip":true},
    "encoding":{"x":{"field":"NPHI","type":"quantitative","scale":{"domain":[0.45,-0.15],"nice":false,"zero":false},"axis":null},
     "y":{"field":"depth","type":"quantitative","scale":{"domain":[7127.23,7207.92],"reverse":true,"nice":false,"zero":false}},
     "order":{"field":"depth","type":"quantitative"}}}
  ],
  "resolve":{"scale":{"x":"independent"},"axis":{"x":"independent"}}},
 {"width":259,"height":639,
  "layer":[
   {"data":{"name":"resm"},"mark":{"type":"line","color":"#000000","strokeWidth":2.7,"clip":true},
    "encoding":{"x":{"field":"RESM","type":"quantitative","scale":{"type":"log","domain":[0.769,1950],"nice":false},"axis":null},
     "y":{"field":"depth","type":"quantitative","scale":{"domain":[7127.23,7207.92],"reverse":true,"nice":false,"zero":false},"axis":{"orient":"left","values":[7127.5,7128.333,7129.167,7130,7130.833,7131.667,7132.5,7133.333,7134.167,7135,7135.833,7136.667,7137.5,7138.333,7139.167,7140,7140.833,7141.667,7142.5,7143.333,7144.167,7145,7145.833,7146.667,7147.5,7148.333,7149.167,7150,7150.833,7151.667,7152.5,7153.333,7154.167,7155,7155.833,7156.667,7157.5,7158.333,7159.167,7160,7160.833,7161.667,7162.5,7163.333,7164.167,7165,7165.833,7166.667,7167.5,7168.333,7169.167,7170,7170.833,7171.667,7172.5,7173.333,7174.167,7175,7175.833,7176.667,7177.5,7178.333,7179.167,7180,7180.833,7181.667,7182.5,7183.333,7184.167,7185,7185.833,7186.667,7187.5,7188.333,7189.167,7190,7190.833,7191.667,7192.5,7193.333,7194.167,7195,7195.833,7196.667,7197.5,7198.333,7199.167,7200,7200.833,7201.667,7202.5,7203.333,7204.167,7205,7205.833,7206.667,7207.5],"tickCount":500,"grid":true,"gridColor":{"condition":[{"test":"datum.value % 25 == 0","value":"#9a9a9a"},{"test":"abs(datum.value/2.5 - round(datum.value/2.5)) < 0.01","value":"#c4c4c4"}],"value":"#dedede"},"gridWidth":1,"labels":false,"ticks":false,"domain":false,"title":null}},
     "order":{"field":"depth","type":"quantitative"}}},
   {"data":{"name":"resd"},"mark":{"type":"line","color":"#ff0000","strokeWidth":2.7,"clip":true},
    "encoding":{"x":{"field":"RESD","type":"quantitative","scale":{"type":"log","domain":[0.735,459.83],"nice":false},"axis":{"orient":"top","offset":3,"values":[1,2,3,4,5,6,7,8,9,10,20,30,40,50,60,70,80,90,100,200,300,400],"grid":true,"gridColor":{"condition":{"test":"datum.value == 1 || datum.value == 10 || datum.value == 100","value":"#b0b0b0"},"value":"#d8d8d8"},"gridWidth":1,"labels":false,"ticks":false,"domain":true,"domainColor":"#e1e1e1","domainWidth":6,"title":null}},
     "y":{"field":"depth","type":"quantitative","scale":{"domain":[7127.23,7207.92],"reverse":true,"nice":false,"zero":false}},
     "order":{"field":"depth","type":"quantitative"}}}
  ],
  "resolve":{"scale":{"x":"independent"},"axis":{"x":"independent"}}},
 {"width":248,"height":639,
  "layer":[
   {"data":{"name":"cut4"},"mark":{"type":"rule","color":"#1a1a1a","strokeWidth":1.5},"encoding":{"x":{"field":"PEF","type":"quantitative","scale":{"domain":[1.403,5.397],"nice":false,"zero":false},"axis":null}}},
   {"data":{"name":"pef"},"mark":{"type":"line","color":"#ff1493","strokeWidth":2.7,"clip":true},
    "encoding":{"x":{"field":"PEF","type":"quantitative","scale":{"domain":[1.403,5.397],"nice":false,"zero":false},"axis":{"orient":"top","offset":3,"values":[2.236,3.068,3.901,4.733],"grid":true,"gridColor":"#b8b8b8","gridDash":[6,2],"gridWidth":1,"labels":false,"ticks":false,"domain":true,"domainColor":"#e1e1e1","domainWidth":6,"title":null}},
     "y":{"field":"depth","type":"quantitative","scale":{"domain":[7127.23,7207.92],"reverse":true,"nice":false,"zero":false},"axis":{"orient":"left","values":[7127.5,7128.333,7129.167,7130,7130.833,7131.667,7132.5,7133.333,7134.167,7135,7135.833,7136.667,7137.5,7138.333,7139.167,7140,7140.833,7141.667,7142.5,7143.333,7144.167,7145,7145.833,7146.667,7147.5,7148.333,7149.167,7150,7150.833,7151.667,7152.5,7153.333,7154.167,7155,7155.833,7156.667,7157.5,7158.333,7159.167,7160,7160.833,7161.667,7162.5,7163.333,7164.167,7165,7165.833,7166.667,7167.5,7168.333,7169.167,7170,7170.833,7171.667,7172.5,7173.333,7174.167,7175,7175.833,7176.667,7177.5,7178.333,7179.167,7180,7180.833,7181.667,7182.5,7183.333,7184.167,7185,7185.833,7186.667,7187.5,7188.333,7189.167,7190,7190.833,7191.667,7192.5,7193.333,7194.167,7195,7195.833,7196.667,7197.5,7198.333,7199.167,7200,7200.833,7201.667,7202.5,7203.333,7204.167,7205,7205.833,7206.667,7207.5],"grid":true,"gridColor":{"condition":[{"test":"datum.value % 25 == 0","value":"#9a9a9a"},{"test":"abs(datum.value/2.5 - round(datum.value/2.5)) < 0.01","value":"#c4c4c4"}],"value":"#dedede"},"gridWidth":1,"labels":false,"ticks":false,"domain":false,"title":null}},
     "order":{"field":"depth","type":"quantitative"}}}
  ],
  "resolve":{"scale":{"x":"independent"},"axis":{"x":"independent"}}}
]
}
